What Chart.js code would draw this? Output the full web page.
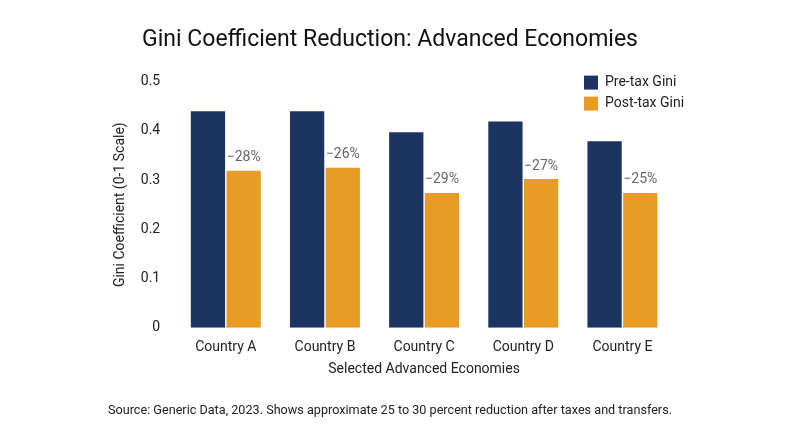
<!DOCTYPE html>
<html>
<head>
<meta charset="utf-8">
<script src="https://cdn.jsdelivr.net/npm/chart.js@4"></script>
<style>
  html, body { margin: 0; padding: 0; background: #fff; }
  #wrap { width: 800px; height: 447px; }
</style>
</head>
<body>
<div id="wrap"><canvas id="gini-chart"></canvas></div>
<script>
const countries = ['Country A', 'Country B', 'Country C', 'Country D', 'Country E'];
const preTax = [0.44, 0.44, 0.397, 0.419, 0.379];
const postTax = [0.319, 0.325, 0.274, 0.302, 0.274];
const reductionLabels = ['\u221228%', '\u221226%', '\u221229%', '\u221227%', '\u221225%'];
const yTicks = [0, 0.1, 0.2, 0.3, 0.4, 0.5];

const FONT = 'Roboto, "Noto Sans", sans-serif';

// reduction labels above post-tax bars + legend in the top right
const overlayPlugin = {
    id: 'overlay',
    afterDatasetsDraw(chart) {
        const ctx = chart.ctx;
        ctx.save();
        ctx.font = '14px ' + FONT;
        ctx.fillStyle = '#666';
        ctx.textAlign = 'center';
        ctx.textBaseline = 'bottom';
        chart.getDatasetMeta(1).data.forEach((bar, i) => {
            ctx.fillText(reductionLabels[i], bar.x, bar.y - 6);
        });

        const area = chart.chartArea;
        ctx.textAlign = 'left';
        ctx.textBaseline = 'middle';
        ctx.font = '14px ' + FONT;
        chart.data.datasets.forEach((ds, i) => {
            const y = area.top + 1 + i * 21;
            ctx.fillStyle = ds.backgroundColor;
            ctx.fillRect(area.right - 88, y - 7, 14, 14);
            ctx.fillStyle = '#222';
            ctx.fillText(ds.label, area.right - 67, y);
        });
        ctx.restore();
    }
};

new Chart(document.getElementById('gini-chart').getContext('2d'), {
    type: 'bar',
    data: {
        labels: countries,
        datasets: [
            { label: 'Pre-tax Gini', data: preTax, backgroundColor: '#1c3461' },
            { label: 'Post-tax Gini', data: postTax, backgroundColor: '#e89c26' }
        ]
    },
    options: {
        responsive: true,
        maintainAspectRatio: false,
        animation: false,
        layout: { padding: { left: 108, right: 128, top: 10, bottom: 10 } },
        datasets: { bar: { barPercentage: 0.96, categoryPercentage: 0.72 } },
        scales: {
            y: {
                min: 0, max: 0.5,
                afterBuildTicks(axis) { axis.ticks = yTicks.map(v => ({ value: v })); },
                grid: { display: false },
                border: { display: false },
                ticks: { color: '#222', font: { size: 14, family: FONT }, padding: 8 },
                title: { display: true, text: 'Gini Coefficient (0-1 Scale)', color: '#222',
                         font: { size: 14, family: FONT } }
            },
            x: {
                grid: { display: false },
                border: { display: false },
                ticks: { color: '#222', font: { size: 14, family: FONT } },
                title: { display: true, text: 'Selected Advanced Economies', color: '#222',
                         font: { size: 14, family: FONT }, padding: { top: 2 } }
            }
        },
        plugins: {
            legend: { display: false },
            tooltip: { enabled: false },
            title: {
                display: true,
                text: 'Gini Coefficient Reduction: Advanced Economies',
                color: '#111',
                font: { size: 23, family: FONT, weight: 'normal' },
                padding: { top: 16, bottom: 28 }
            },
            subtitle: {
                display: true,
                position: 'bottom',
                text: 'Source: Generic Data, 2023. Shows approximate 25 to 30 percent reduction after taxes and transfers.',
                color: '#222',
                font: { size: 13, family: FONT },
                padding: { top: 22, bottom: 18 }
            }
        }
    },
    plugins: [overlayPlugin]
});
</script>
</body>
</html>
